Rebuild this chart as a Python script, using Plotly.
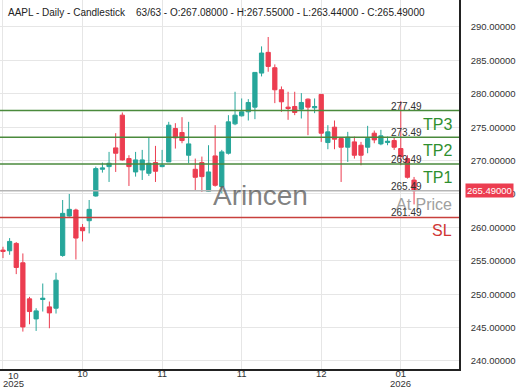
import plotly.graph_objects as go

# ---- data ----
idx = list(range(63))
opens = [256.6, 256.5, 257.6, 254.7, 249.3, 246.3, 249.2, 248.1, 247.9, 255.8,
         261.7, 262.6, 260.0, 261.0, 264.7, 268.7, 269.1, 271.9, 276.8, 270.3,
         268.3, 268.6, 268.1, 269.7, 269.1, 269.8, 274.8, 274.2, 270.8, 268.7,
         269.7, 265.4, 270.7, 266.1, 271.1, 275.5, 276.7, 277.3, 278.0, 283.1,
         286.2, 283.9, 280.6, 278.0, 278.1, 277.7, 279.2, 277.9, 279.9, 272.7,
         275.0, 273.3, 272.0, 272.8, 272.3, 272.0, 274.1, 272.5, 272.7, 273.0,
         271.8, 270.3, 267.08]
highs = [257.1, 258.4, 257.8, 256.1, 249.6, 247.9, 251.6, 248.9, 253.2, 264.1,
         265.0, 262.8, 260.5, 264.1, 269.1, 269.7, 271.3, 274.1, 277.2, 270.8,
         271.3, 271.6, 273.4, 272.2, 271.6, 275.8, 275.6, 276.5, 275.8, 270.3,
         270.6, 272.3, 275.3, 271.6, 276.8, 280.3, 279.3, 279.2, 283.2, 287.1,
         288.5, 284.4, 281.1, 280.3, 280.3, 280.1, 279.3, 279.3, 279.9, 275.3,
         276.0, 273.3, 274.3, 273.6, 272.8, 275.2, 274.5, 274.6, 273.6, 273.5,
         278.9, 270.8, 267.55]
lows = [255.4, 255.9, 253.0, 244.4, 245.5, 244.5, 247.4, 244.9, 247.1, 255.6,
        261.6, 255.2, 257.9, 259.1, 264.6, 268.2, 266.8, 268.3, 270.0, 266.2,
        267.6, 267.1, 267.7, 266.8, 269.0, 269.8, 271.8, 272.6, 269.6, 265.6,
        265.3, 265.3, 266.1, 265.1, 270.9, 275.3, 276.6, 276.0, 276.2, 282.6,
        283.3, 278.6, 277.3, 276.1, 276.8, 276.3, 273.8, 277.1, 272.8, 271.7,
        271.7, 266.8, 269.8, 270.3, 269.3, 271.1, 272.6, 272.3, 272.3, 271.6,
        269.3, 267.3, 263.44]
closes = [256.4, 257.9, 254.0, 245.1, 247.4, 247.5, 249.4, 247.2, 252.1, 262.1,
          262.7, 258.4, 259.5, 262.7, 268.8, 268.9, 269.6, 271.1, 270.1, 269.1,
          270.1, 270.1, 269.6, 268.4, 269.3, 275.3, 273.4, 273.0, 272.5, 267.5,
          267.6, 268.3, 266.3, 271.3, 275.8, 276.8, 277.3, 278.7, 283.2, 286.1,
          284.1, 280.6, 278.8, 277.8, 277.2, 278.7, 278.0, 278.1, 274.1, 274.3,
          273.2, 272.0, 273.5, 270.8, 270.8, 273.3, 273.1, 273.7, 272.9, 272.0,
          270.6, 267.5, 265.49]

tick_idx = [0, 12, 24, 36, 48, 60]
tick_months = ["10", "10", "11", "11", "12", "01"]
year_labels = {0: "2025", 60: "2026"}

y_ticks = [240, 245, 250, 255, 260, 265, 270, 275, 280, 285, 290]

levels = [277.49, 273.49, 269.49, 265.49, 261.49]
level_names = ["TP3", "TP2", "TP1", "At Price", "SL"]
level_line_colors = ["#4a8a3c", "#4a8a3c", "#4a8a3c", "#b5b5b5", "#c8403c"]
level_text_colors = ["#2f8f2f", "#2f8f2f", "#2f8f2f", "#a0a0a0", "#d03535"]

last_price = 265.49
title_text = ("AAPL - Daily - Candlestick\u00a0\u00a0\u00a0 63/63 - O:267.08000 - "
              "H:267.55000 - L:263.44000 - C:265.49000")

GREEN = "#26a69a"
RED = "#ec3d50"
FONT = "Arial, Liberation Sans, sans-serif"

fig = go.Figure()
fig.add_trace(go.Candlestick(
    x=idx, open=opens, high=highs, low=lows, close=closes,
    increasing=dict(line=dict(color=GREEN, width=1), fillcolor=GREEN),
    decreasing=dict(line=dict(color=RED, width=1), fillcolor=RED),
    whiskerwidth=0, showlegend=False, hoverinfo="skip",
))

for lv, name, lc, tc in zip(levels, level_names, level_line_colors, level_text_colors):
    fig.add_hline(y=lv, line=dict(color=lc, width=1.5), layer="above")
    fig.add_annotation(x=424 / 459, xref="paper", y=lv, yref="y",
                       text=f"{lv:.2f}", showarrow=False, xanchor="right",
                       yanchor="bottom", yshift=-3,
                       font=dict(family=FONT, size=10, color="#333333"))
    fig.add_annotation(x=454 / 459, xref="paper", y=lv, yref="y",
                       text=name, showarrow=False, xanchor="right",
                       yanchor="top", yshift=-3,
                       font=dict(family=FONT, size=16, color=tc))

# last price tag
fig.add_annotation(x=1, xref="paper", y=last_price, yref="y",
                   text=f"{last_price:.5f}", showarrow=False, xanchor="left",
                   xshift=6, bgcolor=RED, borderpad=1,
                   font=dict(family=FONT, size=9.5, color="white"))

# partially visible top tick label
fig.add_annotation(x=1, xref="paper", y=295, yref="y", text="295.00000",
                   showarrow=False, xanchor="left", xshift=9,
                   font=dict(family=FONT, size=9.5, color="#333333"))

# first tick label and year labels
fig.add_annotation(x=0, xref="x", y=0, yref="paper", text=tick_months[0],
                   showarrow=False, xanchor="center", xshift=10.5,
                   yanchor="top", yshift=1,
                   font=dict(family=FONT, size=9.5, color="#333333"))
for k, yr in year_labels.items():
    fig.add_annotation(x=k, xref="x", y=0, yref="paper", text=yr,
                       showarrow=False, xanchor="center",
                       xshift=10.5 if k == 0 else 0,
                       yanchor="top", yshift=-7,
                       font=dict(family=FONT, size=9.5, color="#333333"))

# watermark
fig.add_annotation(x=260 / 459, xref="paper", y=1 - 195 / 369, yref="paper",
                   text="Arincen", showarrow=False,
                   font=dict(family=FONT, size=28, color="rgba(95,95,95,0.8)"))

fig.update_layout(
    width=520, height=390,
    margin=dict(l=0, r=61, t=0, b=21, autoexpand=False),
    paper_bgcolor="white", plot_bgcolor="white",
    font=dict(family=FONT, size=9.5, color="#333333"),
    title=dict(text=title_text, x=8 / 520, xref="container", xanchor="left",
               y=1 - 12 / 390, yref="container", yanchor="middle",
               font=dict(family=FONT, size=10, color="#222222")),
    boxgap=0.2, boxgroupgap=0.2,
    showlegend=False,
)
fig.update_xaxes(
    range=[-0.45, 68.78], rangeslider_visible=False,
    tickmode="array", tickvals=tick_idx, ticktext=[""] + tick_months[1:],
    showgrid=True, gridcolor="#e6e6e6", gridwidth=1,
    showline=True, linecolor="#222222", linewidth=1.5,
    ticks="", ticklabelstandoff=-5, zeroline=False,
    tickfont=dict(family=FONT, size=9.5, color="#333333"),
)
fig.update_yaxes(
    range=[238.8, 294.04], side="right",
    tickmode="array", tickvals=y_ticks, tickformat=".5f",
    showgrid=True, gridcolor="#e6e6e6", gridwidth=1,
    showline=True, linecolor="#222222", linewidth=1.5,
    ticks="", ticklabelstandoff=8, zeroline=False,
    tickfont=dict(family=FONT, size=9.5, color="#333333"),
)

fig.write_html("out.html",
               config={"displayModeBar": False},
               post_script="document.body.style.margin='0';"
                           "document.body.style.padding='0';"
                           "document.body.style.overflow='hidden';")
